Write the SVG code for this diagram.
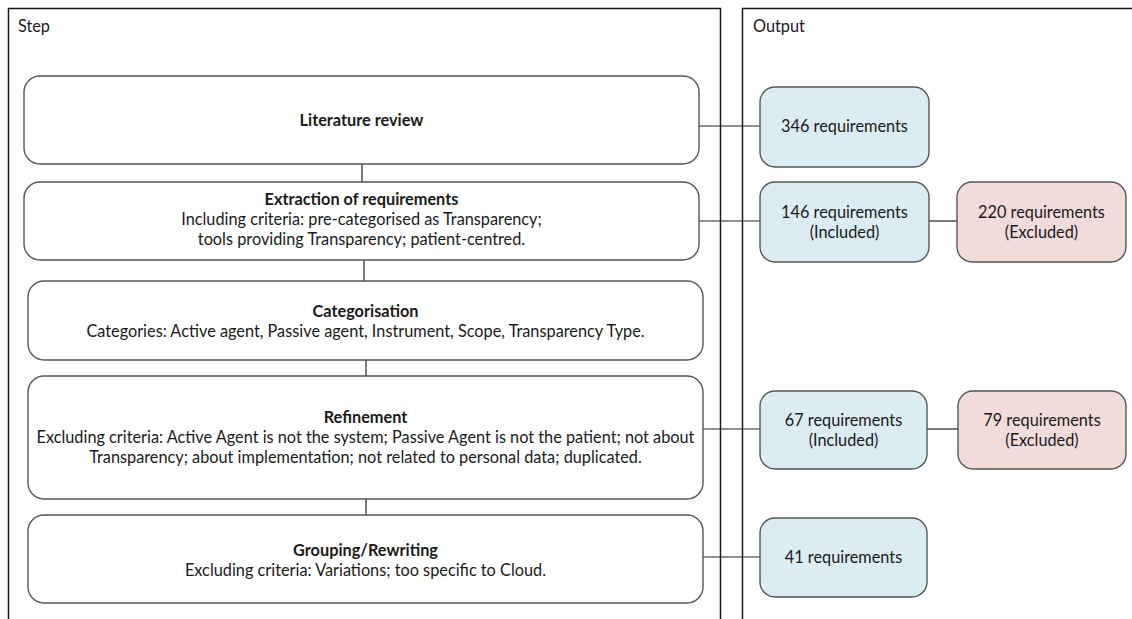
<svg xmlns="http://www.w3.org/2000/svg" width="1132" height="619" viewBox="0 0 1132 619">
  <style>
    .panel { fill: none; stroke: #1a1a1a; stroke-width: 1.5; }
    .step { fill: #ffffff; stroke: #555555; stroke-width: 1.4; }
    .inc { fill: #dbedf3; stroke: #555555; stroke-width: 1.4; }
    .exc { fill: #f2dcdb; stroke: #555555; stroke-width: 1.4; }
    .wire { fill: none; stroke: #222222; stroke-width: 1.2; }
    text { font-family: Lato, "Open Sans", "Liberation Sans", sans-serif; font-size: 16.3px; fill: #1a1a1a; }
    .c { text-anchor: middle; }
    .b { font-weight: bold; }
  </style>

  <rect width="1132" height="619" fill="#ffffff"/>

  <!-- column panels -->
  <g id="panels">
    <path class="panel" d="M8.5 619 V8.5 H720.5 V619"/>
    <path class="panel" d="M742.5 619 V8.5 H1132"/>
    <text x="18" y="32">Step</text>
    <text x="753" y="32">Output</text>
  </g>

  <!-- connectors -->
  <g id="connectors">
    <line class="wire" x1="362" y1="164" x2="362" y2="182"/>
    <line class="wire" x1="364" y1="260" x2="364" y2="281"/>
    <line class="wire" x1="366" y1="360" x2="366" y2="376"/>
    <line class="wire" x1="366" y1="499" x2="366" y2="515"/>
    <line class="wire" x1="699" y1="126" x2="760" y2="126"/>
    <line class="wire" x1="699" y1="221" x2="760" y2="221"/>
    <line class="wire" x1="929" y1="221" x2="957" y2="221"/>
    <line class="wire" x1="703" y1="429" x2="760" y2="429"/>
    <line class="wire" x1="927" y1="429" x2="958" y2="429"/>
    <line class="wire" x1="703" y1="557" x2="760" y2="557"/>
  </g>

  <!-- steps -->
  <g id="step-literature">
    <rect class="step" x="24" y="76" width="675" height="88" rx="16"/>
    <text class="c b" x="361.5" y="126">Literature review</text>
  </g>
  <g id="step-extraction">
    <rect class="step" x="24" y="182" width="675" height="78" rx="16"/>
    <text class="c b" x="361.5" y="205">Extraction of requirements</text>
    <text class="c" x="361.5" y="225">Including criteria: pre-categorised as Transparency;</text>
    <text class="c" x="361.5" y="245">tools providing Transparency; patient-centred.</text>
  </g>
  <g id="step-categorisation">
    <rect class="step" x="28" y="281" width="675" height="79" rx="16"/>
    <text class="c b" x="365.5" y="317">Categorisation</text>
    <text class="c" x="365.5" y="337">Categories: Active agent, Passive agent, Instrument, Scope, Transparency Type.</text>
  </g>
  <g id="step-refinement">
    <rect class="step" x="28" y="376" width="675" height="123" rx="16"/>
    <text class="c b" x="365.5" y="423">Refinement</text>
    <text class="c" x="365.5" y="443">Excluding criteria: Active Agent is not the system; Passive Agent is not the patient; not about</text>
    <text class="c" x="365.5" y="463">Transparency; about implementation; not related to personal data; duplicated.</text>
  </g>
  <g id="step-grouping">
    <rect class="step" x="28" y="515" width="675" height="88" rx="16"/>
    <text class="c b" x="365.5" y="556">Grouping/Rewriting</text>
    <text class="c" x="365.5" y="576">Excluding criteria: Variations; too specific to Cloud.</text>
  </g>

  <!-- outputs -->
  <g id="out-346">
    <rect class="inc" x="760" y="87" width="169" height="80" rx="15"/>
    <text class="c" x="844.5" y="132">346 requirements</text>
  </g>
  <g id="out-146">
    <rect class="inc" x="760" y="182" width="169" height="80" rx="15"/>
    <text class="c" x="844.5" y="218">146 requirements</text>
    <text class="c" x="844.5" y="238">(Included)</text>
  </g>
  <g id="out-220">
    <rect class="exc" x="957" y="182" width="169" height="80" rx="15"/>
    <text class="c" x="1041.5" y="218">220 requirements</text>
    <text class="c" x="1041.5" y="238">(Excluded)</text>
  </g>
  <g id="out-67">
    <rect class="inc" x="760" y="391" width="167" height="78" rx="15"/>
    <text class="c" x="843.5" y="426">67 requirements</text>
    <text class="c" x="843.5" y="446">(Included)</text>
  </g>
  <g id="out-79">
    <rect class="exc" x="958" y="391" width="168" height="78" rx="15"/>
    <text class="c" x="1042" y="426">79 requirements</text>
    <text class="c" x="1042" y="446">(Excluded)</text>
  </g>
  <g id="out-41">
    <rect class="inc" x="760" y="518" width="167" height="79" rx="15"/>
    <text class="c" x="843.5" y="563">41 requirements</text>
  </g>
</svg>
